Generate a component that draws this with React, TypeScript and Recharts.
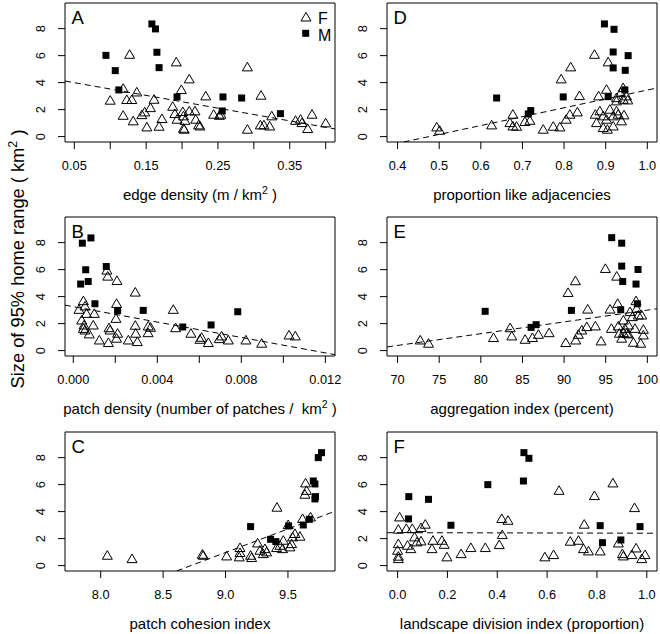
import { ScatterChart, Scatter, XAxis, YAxis, ReferenceArea, ReferenceLine } from 'recharts';

// y axis is shared by all six panels (size of 95% home range, km2)
const yDomain = [-0.4, 9.9];
const yTicks = [0, 2, 4, 6, 8];

// A: edge density
const edgeTicks = [0.05, 0.1, 0.15, 0.2, 0.25, 0.3, 0.35, 0.4];
const edgeLabels = ['0.05', '', '0.15', '', '0.25', '', '0.35', ''];
const edgeF = [
  [0.127, 6.12], [0.192, 5.56], [0.291, 5.19], [0.21, 4.3], [0.199, 3.51], [0.118, 3.6], [0.137, 3.33],
  [0.1, 2.72], [0.123, 2.77], [0.13, 2.77], [0.161, 2.79], [0.233, 3.04], [0.31, 3.09], [0.156, 2.17],
  [0.148, 1.85], [0.144, 1.65], [0.118, 1.6], [0.132, 1.19], [0.151, 0.74], [0.168, 0.79], [0.172, 1.36],
  [0.187, 2.27], [0.19, 1.73], [0.193, 1.31], [0.201, 1.88], [0.202, 1.56], [0.204, 1.23], [0.202, 0.64],
  [0.203, 0.57], [0.21, 1.93], [0.218, 1.93], [0.219, 1.31], [0.223, 0.89], [0.225, 0.81], [0.244, 1.68],
  [0.252, 1.6], [0.254, 1.68], [0.291, 0.57], [0.309, 0.89], [0.314, 0.89], [0.322, 0.81], [0.325, 1.56],
  [0.358, 1.23], [0.365, 1.31], [0.367, 1.06], [0.375, 0.62], [0.381, 1.68], [0.4, 1.04],
];
const edgeM = [
  [0.158, 8.35], [0.163, 7.98], [0.165, 6.25], [0.168, 5.11], [0.094, 6.02], [0.107, 4.89],
  [0.112, 3.46], [0.193, 2.94], [0.257, 2.94], [0.283, 2.86], [0.256, 1.9], [0.337, 1.7],
];
const edgeFit = [[0.037, 4.12], [0.413, 0.57]];

// D: proportion like adjacencies
const adjTicks = [0.4, 0.5, 0.6, 0.7, 0.8, 0.9, 1.0];
const adjLabels = ['0.4', '0.5', '0.6', '0.7', '0.8', '0.9', '1.0'];
const adjF = [
  [0.494, 0.74], [0.501, 0.49], [0.626, 0.89], [0.677, 1.68], [0.67, 1.06], [0.677, 0.81], [0.686, 0.79],
  [0.706, 1.14], [0.718, 1.23], [0.75, 0.57], [0.774, 0.79], [0.79, 0.74], [0.793, 4.3], [0.816, 5.19],
  [0.837, 3.06], [0.805, 1.31], [0.814, 1.68], [0.832, 1.85], [0.873, 6.12], [0.906, 5.56], [0.883, 3.04],
  [0.902, 3.53], [0.875, 1.68], [0.886, 1.93], [0.894, 1.56], [0.878, 1.06], [0.894, 0.69], [0.904, 0.57],
  [0.902, 1.31], [0.91, 2.05], [0.918, 1.56], [0.918, 0.81], [0.926, 2.67], [0.926, 1.93], [0.93, 1.68],
  [0.938, 1.19], [0.942, 3.65], [0.936, 3.28], [0.942, 2.79], [0.953, 2.74], [0.944, 1.63], [0.95, 3.04],
  [0.926, 2.91],
];
const adjM = [
  [0.897, 8.35], [0.92, 7.95], [0.918, 6.27], [0.954, 6.0], [0.918, 5.09], [0.947, 4.91],
  [0.946, 3.46], [0.906, 2.96], [0.798, 2.94], [0.638, 2.86], [0.714, 1.68], [0.72, 1.93],
];
const adjFit = [[0.4144, -0.4], [1.023, 3.6]];

// B: patch density
const densTicks = [0, 0.002, 0.004, 0.006, 0.008, 0.01, 0.012];
const densLabels = ['0.000', '', '0.004', '', '0.008', '', '0.012'];
const densF = [
  [0.0016, 5.99], [0.00164, 5.54], [0.00208, 5.22], [0.00295, 4.36], [0.00048, 3.72], [0.00027, 3.08],
  [0.00056, 3.33], [0.00063, 2.78], [0.001, 2.78], [0.00206, 3.52], [0.00203, 2.41], [0.0004, 2.29],
  [0.00051, 1.92], [0.00048, 1.67], [0.00056, 1.55], [0.00076, 1.26], [0.00095, 1.92], [0.00124, 0.81],
  [0.0017, 1.72], [0.00175, 1.55], [0.00167, 0.62], [0.00211, 1.31], [0.00206, 0.94], [0.00262, 0.81],
  [0.00295, 1.9], [0.00297, 1.31], [0.00305, 0.69], [0.00356, 1.35], [0.00357, 1.85], [0.00368, 1.75],
  [0.00476, 3.08], [0.00487, 1.72], [0.0056, 1.31], [0.00603, 0.86], [0.00611, 1.01], [0.00643, 0.62],
  [0.00695, 0.91], [0.00706, 1.11], [0.00738, 0.81], [0.00822, 0.81], [0.00897, 0.57], [0.01027, 1.18],
  [0.01057, 1.11],
];
const densM = [
  [0.00043, 7.96], [0.00084, 8.35], [0.00059, 5.99], [0.00157, 6.23], [0.00071, 5.12], [0.00035, 4.93],
  [0.00103, 3.47], [0.00211, 2.96], [0.00333, 2.98], [0.00521, 1.75], [0.00656, 1.9], [0.00783, 2.88],
];
const densFit = [[-0.0004, 3.37], [0.01246, -0.3]];

// E: aggregation index
const aggTicks = [70, 75, 80, 85, 90, 95, 100];
const aggLabels = ['70', '75', '80', '85', '90', '95', '100'];
const aggF = [
  [72.72, 0.81], [73.72, 0.57], [81.52, 0.99], [83.52, 1.72], [83.72, 1.11], [85.32, 0.86], [86.2, 0.99],
  [86.92, 1.23], [88.2, 1.35], [90.2, 0.62], [91.4, 0.81], [90.48, 4.33], [91.36, 5.2], [92.84, 3.1],
  [91.72, 1.23], [92.12, 1.55], [92.72, 1.8], [93.76, 1.85], [94.44, 0.74], [94.96, 6.11], [96.32, 5.54],
  [95.52, 3.1], [96.44, 3.52], [95.68, 1.67], [96.52, 1.85], [96.64, 1.31], [96.92, 0.94], [97.12, 2.29],
  [97.32, 1.67], [97.52, 1.31], [97.72, 1.92], [97.92, 2.91], [98.2, 2.54], [98.52, 1.67], [98.64, 3.72],
  [98.72, 3.15], [98.92, 2.66], [99.32, 2.66], [99.52, 1.6], [98.32, 0.64], [99.2, 0.57], [99.52, 1.18],
  [97.72, 1.26], [97.12, 1.35],
];
const aggM = [
  [95.72, 8.37], [96.92, 7.96], [96.92, 6.26], [98.88, 6.01], [97.04, 5.12], [98.64, 4.93],
  [98.8, 3.47], [96.8, 3.03], [90.88, 2.98], [80.52, 2.91], [86.04, 1.72], [86.64, 1.92],
];
const aggFit = [[68.73, 0.27], [101.16, 3.1]];

// C: patch cohesion index
const cohTicks = [8.0, 8.5, 9.0, 9.5];
const cohLabels = ['8.0', '8.5', '9.0', '9.5'];
const cohF = [
  [8.053, 0.79], [8.251, 0.54], [8.814, 0.86], [8.822, 0.79], [9.009, 0.74], [9.116, 1.36], [9.116, 0.99],
  [9.11, 0.67], [9.201, 0.79], [9.209, 0.62], [9.257, 1.7], [9.276, 1.16], [9.302, 0.91], [9.329, 1.04],
  [9.412, 4.35], [9.436, 1.53], [9.463, 1.9], [9.457, 1.28], [9.502, 3.06], [9.529, 1.65], [9.537, 2.15],
  [9.556, 2.4], [9.596, 2.2], [9.617, 3.51], [9.636, 5.31], [9.641, 6.15], [9.649, 5.6], [9.681, 3.63],
  [9.516, 1.41], [9.409, 1.36], [9.316, 1.28],
];
const cohM = [
  [9.769, 8.37], [9.743, 8.0], [9.703, 6.27], [9.716, 6.05], [9.721, 5.11], [9.716, 4.94],
  [9.201, 2.89], [9.671, 3.43], [9.623, 3.01], [9.505, 2.94], [9.361, 1.95], [9.403, 1.78],
];
const cohFit = [[8.608, -0.4], [9.877, 4.03]];

// F: landscape division index
const divTicks = [0, 0.2, 0.4, 0.6, 0.8, 1.0];
const divLabels = ['0.0', '0.2', '0.4', '0.6', '0.8', '1.0'];
const divF = [
  [0.008, 3.63], [0.003, 2.72], [0.003, 1.65], [0.0, 1.16], [0.003, 0.72], [0.003, 0.54], [0.035, 2.77],
  [0.04, 1.53], [0.053, 1.28], [0.059, 2.77], [0.068, 2.15], [0.078, 1.78], [0.094, 1.85], [0.094, 2.84],
  [0.111, 3.09], [0.142, 1.9], [0.138, 1.28], [0.178, 1.9], [0.187, 1.6], [0.198, 0.67], [0.255, 0.91],
  [0.294, 1.36], [0.352, 1.36], [0.408, 1.58], [0.42, 2.32], [0.418, 3.51], [0.443, 3.38], [0.591, 0.67],
  [0.626, 0.84], [0.648, 5.6], [0.693, 1.83], [0.726, 1.9], [0.749, 3.09], [0.746, 1.28], [0.766, 1.11],
  [0.79, 5.21], [0.813, 1.11], [0.864, 6.15], [0.886, 1.7], [0.902, 0.91], [0.906, 0.74], [0.94, 0.84],
  [0.951, 4.32], [0.957, 1.33], [0.993, 0.84], [0.98, 0.54],
];
const divM = [
  [0.507, 8.37], [0.527, 7.95], [0.505, 6.27], [0.362, 6.0], [0.045, 5.11], [0.124, 4.91],
  [0.044, 3.46], [0.214, 2.99], [0.813, 2.96], [0.973, 2.89], [0.896, 1.9], [0.822, 1.7],
];
const divFit = [[-0.0425, 2.44], [1.041, 2.4]];

const FONT = '"Liberation Sans", Arial, Helvetica, sans-serif';
const toPts = (arr: number[][]) => arr.map(([x, y]) => ({ x, y }));

const Triangle = (props: any) => {
  const { cx, cy } = props;
  return (
    <path
      d={`M${cx},${cy - 4.3}L${cx + 5},${cy + 4.3}L${cx - 5},${cy + 4.3}Z`}
      fill="none"
      stroke="#000"
      strokeWidth={1}
    />
  );
};

const Square = (props: any) => {
  const { cx, cy } = props;
  return <rect x={cx - 3.5} y={cy - 3.5} width={7} height={7} fill="#000" />;
};

const YTick = (props: any) => {
  const { x, y, payload } = props;
  return (
    <text x={x} y={y} transform={`rotate(-90, ${x}, ${y})`} textAnchor="middle" fontSize={12.8} fill="#000" fontFamily={FONT}>
      {payload.value}
    </text>
  );
};

const panels = [
  { key: 'A', col: 0, row: 0, domain: [0.037, 0.413], ticks: edgeTicks, labels: edgeLabels, f: edgeF, m: edgeM, fit: edgeFit },
  { key: 'D', col: 1, row: 0, domain: [0.3746, 1.0233], ticks: adjTicks, labels: adjLabels, f: adjF, m: adjM, fit: adjFit },
  { key: 'B', col: 0, row: 1, domain: [-0.000395, 0.01246], ticks: densTicks, labels: densLabels, f: densF, m: densM, fit: densFit },
  { key: 'E', col: 1, row: 1, domain: [68.73, 101.16], ticks: aggTicks, labels: aggLabels, f: aggF, m: aggM, fit: aggFit },
  { key: 'C', col: 0, row: 2, domain: [7.714, 9.877], ticks: cohTicks, labels: cohLabels, f: cohF, m: cohM, fit: cohFit },
  { key: 'F', col: 1, row: 2, domain: [-0.0425, 1.041], ticks: divTicks, labels: divLabels, f: divF, m: divM, fit: divFit },
];

const colLeft = [0, 345];
const colWidth = [345, 315];
const colMarginLeft = [25, 2];
const rowTop = [0, 214, 429];
const boxLeft = [65, 387];
const boxTop = [3, 217, 432];
const BOX_W = 270;

const Panel = ({ p }: { p: any }) => (
  <div style={{ position: 'absolute', left: colLeft[p.col], top: rowTop[p.row] }}>
    <ScatterChart
      width={colWidth[p.col]}
      height={182}
      margin={{ top: 3, right: colWidth[p.col] - colMarginLeft[p.col] - 40 - BOX_W, bottom: 0, left: colMarginLeft[p.col] }}
    >
      <XAxis
        type="number"
        dataKey="x"
        domain={p.domain}
        ticks={p.ticks}
        interval={0}
        allowDataOverflow
        axisLine={false}
        tickLine={{ stroke: '#000' }}
        tickSize={7}
        tickMargin={12}
        height={40}
        tick={{ fill: '#000', fontSize: 12.8, fontFamily: FONT }}
        tickFormatter={(_v: number, i: number) => p.labels[i]}
      />
      <YAxis
        type="number"
        dataKey="y"
        domain={yDomain}
        ticks={yTicks}
        interval={0}
        allowDataOverflow
        axisLine={false}
        tickLine={{ stroke: '#000' }}
        tickSize={7}
        tickMargin={13}
        width={40}
        tick={<YTick />}
      />
      <ReferenceArea
        x1={p.domain[0]}
        x2={p.domain[1]}
        y1={yDomain[0]}
        y2={yDomain[1]}
        fill="none"
        fillOpacity={0}
        stroke="#000"
        strokeWidth={1}
        ifOverflow="visible"
      />
      <ReferenceLine
        segment={toPts(p.fit)}
        stroke="#000"
        strokeWidth={1}
        strokeDasharray="6 4"
        ifOverflow="hidden"
      />
      <Scatter data={toPts(p.f)} shape={Triangle} isAnimationActive={false} />
      <Scatter data={toPts(p.m)} shape={Square} isAnimationActive={false} />
    </ScatterChart>
  </div>
);

const titles = [
  { col: 0, row: 0, text: 'edge density (m / km', sup: true },
  { col: 1, row: 0, text: 'proportion like adjacencies', sup: false },
  { col: 0, row: 1, text: 'patch density (number of patches /  km', sup: true },
  { col: 1, row: 1, text: 'aggregation index (percent)', sup: false },
  { col: 0, row: 2, text: 'patch cohesion index', sup: false },
  { col: 1, row: 2, text: 'landscape division index (proportion)', sup: false },
];

export default function App() {
  return (
    <div style={{ position: 'absolute', left: 0, top: 0, width: 660, height: 634, background: '#fff', fontFamily: FONT }}>
      {panels.map((p) => (
        <Panel key={p.key} p={p} />
      ))}
      <svg width={660} height={634} style={{ position: 'absolute', left: 0, top: 0, pointerEvents: 'none' }} fontFamily={FONT}>
        <text transform="translate(24, 259) rotate(-90)" textAnchor="middle" fontSize={18.3} fill="#000" style={{ whiteSpace: 'pre' }}>
          Size of 95% home range ( km<tspan dy={-7.5} fontSize={12.5}>2</tspan><tspan dy={7.5}> )</tspan>
        </text>
        {panels.map((p) => (
          <text key={p.key} x={boxLeft[p.col] + 6.5} y={boxTop[p.row] + 20.5} fontSize={18.5} fill="#000">
            {p.key}
          </text>
        ))}
        {titles.map((t, i) => (
          <text
            key={i}
            x={boxLeft[t.col] + BOX_W / 2}
            y={boxTop[t.row] + 197}
            textAnchor="middle"
            fontSize={15}
            fill="#000"
            style={{ whiteSpace: 'pre' }}
          >
            {t.text}
            {t.sup ? (
              <>
                <tspan dy={-6} fontSize={10.5}>2</tspan>
                <tspan dy={6}> )</tspan>
              </>
            ) : null}
          </text>
        ))}
        {/* legend, panel A */}
        <path d="M306,12.4L311,21L301,21Z" fill="none" stroke="#000" strokeWidth={1} />
        <text x={318} y={24} fontSize={16} fill="#000">F</text>
        <rect x={302.2} y={29.8} width={7} height={7} fill="#000" />
        <text x={318} y={40.7} fontSize={16} fill="#000">M</text>
      </svg>
    </div>
  );
}
